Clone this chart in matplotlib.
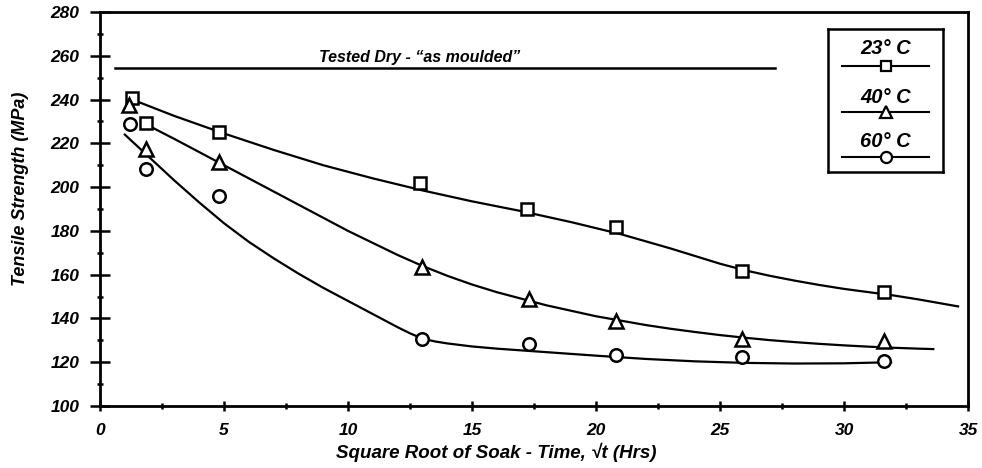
import matplotlib
matplotlib.use("Agg")
import matplotlib.pyplot as plt
from matplotlib.ticker import MultipleLocator

# measured points (square root of soak time, hrs^0.5 -> tensile strength, MPa)
sq_x = [1.3, 1.85, 4.8, 12.9, 17.2, 20.8, 25.9, 31.6]
sq_y = [240.5, 229.5, 225, 202, 190, 182, 161.5, 152]
tri_x = [1.15, 1.85, 4.8, 13.0, 17.3, 20.8, 25.9, 31.6]
tri_y = [237.5, 217.5, 211.5, 163.5, 149, 139, 130.5, 129.5]
cir_x = [1.2, 1.85, 4.8, 13.0, 17.3, 20.8, 25.9, 31.6]
cir_y = [229, 208.5, 196, 130.5, 128.5, 123.5, 122.5, 120.5]

# fitted curves
fit23_x = [1.3, 3, 5, 7, 9, 11, 13, 15, 17, 19, 21, 23, 25, 26, 27, 28, 29, 30, 31, 32, 33, 34.6]
fit23_y = [240, 232.5, 224.5, 217, 210, 204, 198.5, 193.5, 189, 184, 178.5, 172, 165, 162, 159.5,
           157.3, 155.3, 153.5, 152, 150.5, 148.7, 145.5]
fit40_x = [1.8, 3, 4, 5, 6, 7, 8, 9, 10, 11, 12, 13, 14, 15, 16, 17, 18, 19, 20, 21, 22, 23, 24,
           25, 26, 27, 28, 29, 30, 31, 32, 33, 33.6]
fit40_y = [229, 222, 216, 210, 204, 198, 192, 186, 180, 174.5, 169, 164, 159.5, 155.5, 152, 149,
           146, 143.5, 141, 139, 137, 135.3, 133.8, 132.4, 131.2, 130.1, 129.2, 128.4, 127.7, 127.1,
           126.6, 126.2, 126]
fit60_x = [1.0, 2, 3, 4, 5, 6, 7, 8, 9, 10, 11, 12, 12.5, 13, 13.5, 14, 15, 16, 17, 18, 20, 22, 24,
           26, 28, 30, 31.9]
fit60_y = [224, 213.5, 203, 193, 183.5, 175, 167.5, 160.5, 154, 148, 142, 136, 133.2, 130.8, 129.5,
           128.6, 127.2, 126.2, 125.4, 124.6, 123, 121.5, 120.4, 119.7, 119.4, 119.5, 120]

dry_x = [0.6, 27.2]
dry_y = [254.5, 254.5]

labels = ["23° C", "40° C", "60° C"]
markers = ["s", "^", "o"]

plt.rcParams["font.family"] = ["Liberation Sans", "DejaVu Sans"]
plt.rcParams["font.weight"] = "bold"
plt.rcParams["font.style"] = "italic"

fig = plt.figure(figsize=(9.82, 4.68), dpi=100)
ax = fig.add_axes([100 / 982, 1 - 406 / 468, 868 / 982, 394 / 468])

mk = dict(mfc="white", mec="black", mew=1.8, ls="none", zorder=3)
ax.plot(fit23_x, fit23_y, color="black", lw=1.6)
ax.plot(fit40_x, fit40_y, color="black", lw=1.6)
ax.plot(fit60_x, fit60_y, color="black", lw=1.6)
ax.plot(sq_x, sq_y, marker="s", ms=8, **mk)
ax.plot(tri_x, tri_y, marker="^", ms=10, **mk)
ax.plot(cir_x, cir_y, marker="o", ms=9, **mk)

ax.plot(dry_x, dry_y, color="black", lw=1.8)
ax.text(12.9, dry_y[0] + 1.5, "Tested Dry - \u201cas moulded\u201d", ha="center", va="bottom",
        fontsize=11.5, fontweight="bold", style="italic")

ax.set_xlim(0, 35)
ax.set_ylim(100, 280)
ax.xaxis.set_major_locator(MultipleLocator(5))
ax.xaxis.set_minor_locator(MultipleLocator(2.5))
ax.yaxis.set_major_locator(MultipleLocator(20))
ax.yaxis.set_minor_locator(MultipleLocator(10))

for s in ax.spines.values():
    s.set_linewidth(2)
ax.tick_params(axis="y", which="major", direction="inout", length=14, width=1.8, labelsize=12.5, pad=8)
ax.tick_params(axis="y", which="minor", direction="inout", length=5, width=1.8)
ax.tick_params(axis="x", which="major", direction="inout", length=7, width=1.8, labelsize=12.5, pad=9)
ax.tick_params(axis="x", which="minor", direction="inout", length=5, width=1.8)
for lab in ax.get_xticklabels() + ax.get_yticklabels():
    lab.set_fontweight("bold")
    lab.set_style("italic")

ax.set_xlabel("Square Root of Soak - Time, \u221at (Hrs)", fontsize=13.5, fontweight="bold", style="italic")
ax.xaxis.set_label_coords(0.457, -0.118)
ax.xaxis.label.set_va("center")
ax.set_ylabel("Tensile Strength (MPa)", fontsize=13, fontweight="bold", style="italic")
ax.yaxis.set_label_coords(-0.092, 0.55)
ax.yaxis.label.set_va("center")

# legend box: text above a line sample with the marker in the middle
lg = fig.add_axes([828 / 982, 1 - 172 / 468, 115 / 982, 143 / 468])
lg.set_xlim(0, 1)
lg.set_ylim(0, 1)
lg.set_xticks([])
lg.set_yticks([])
for s in lg.spines.values():
    s.set_linewidth(1.8)
text_y = [0.867, 0.524, 0.21]
line_y = [0.741, 0.42, 0.105]
sizes = [7, 9, 8]
for lab, m, ty, ly, ms in zip(labels, markers, text_y, line_y, sizes):
    lg.text(0.5, ty, lab, ha="center", va="center", fontsize=14.5, fontweight="bold", style="italic")
    lg.plot([0.12, 0.88], [ly, ly], color="black", lw=1.5)
    lg.plot([0.5], [ly], marker=m, ms=ms, mfc="white", mec="black", mew=1.6)

fig.savefig("out.png", dpi=100)
